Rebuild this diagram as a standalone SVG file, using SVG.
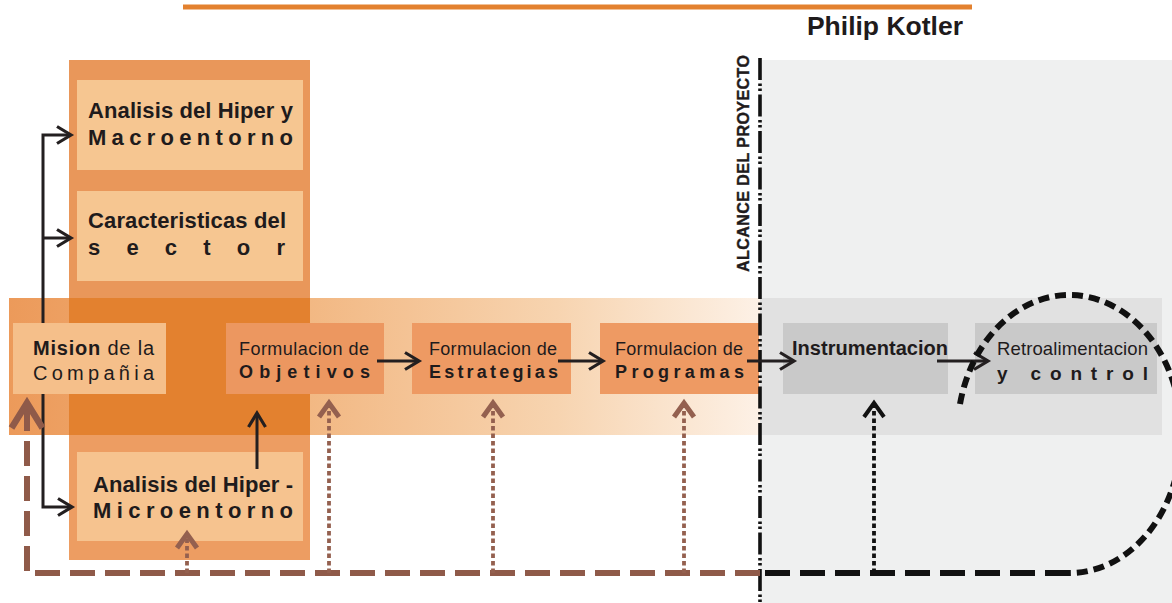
<svg xmlns="http://www.w3.org/2000/svg" width="1172" height="603" viewBox="0 0 1172 603">
<defs>
  <linearGradient id="bandGrad" gradientUnits="userSpaceOnUse" x1="9" y1="0" x2="760" y2="0">
    <stop offset="0" stop-color="#ec9a5a"/>
    <stop offset="0.4" stop-color="#f2b883"/>
    <stop offset="0.73" stop-color="#f7d4b0"/>
    <stop offset="1" stop-color="#fdf1e6"/>
  </linearGradient>
  <marker id="arrBlack" markerUnits="userSpaceOnUse" viewBox="-18 -12 22 24" markerWidth="22" markerHeight="24" refX="0" refY="0" orient="auto" overflow="visible">
    <path d="M-14,-8.5 L0,0 L-14,8.5" fill="none" stroke="#231f20" stroke-width="3.2"/>
  </marker>
  <marker id="arrDot" markerUnits="userSpaceOnUse" viewBox="-18 -14 22 28" markerWidth="22" markerHeight="28" refX="0" refY="0" orient="auto" overflow="visible">
    <path d="M-14,-10 L0,0 L-14,10" fill="none" stroke="#94604f" stroke-width="5"/>
  </marker>
  <marker id="arrDotBlack" markerUnits="userSpaceOnUse" viewBox="-18 -14 22 28" markerWidth="22" markerHeight="28" refX="0" refY="0" orient="auto" overflow="visible">
    <path d="M-14,-10 L0,0 L-14,10" fill="none" stroke="#111" stroke-width="4"/>
  </marker>
  <marker id="arrBig" markerUnits="userSpaceOnUse" viewBox="-30 -20 34 40" markerWidth="34" markerHeight="40" refX="0" refY="0" orient="auto" overflow="visible">
    <path d="M-25,-15.5 L0,0 L-25,15.5" fill="none" stroke="#8f5a49" stroke-width="6.5"/>
  </marker>
</defs>
<style>
  text { font-family: "Liberation Sans", Arial, sans-serif; fill: #1f1b1c; }
  .b { font-weight: bold; }
  .lbl { font-size: 22px; font-weight: bold; }
  .form { font-size: 18px; }
  .formb { font-size: 18px; font-weight: bold; }
  .blk { fill: none; stroke: #231f20; stroke-width: 3; }
  .dotb { fill: none; stroke: #94604f; stroke-width: 3.8; stroke-dasharray: 4.5 3; }
  .dotk { fill: none; stroke: #111; stroke-width: 3.8; stroke-dasharray: 4.5 3; }
  .dashb { fill: none; stroke: #8f5a49; stroke-width: 6; stroke-dasharray: 25 10; }
  .dashk { fill: none; stroke: #111; stroke-width: 6; stroke-dasharray: 25 10; }
  .arck { fill: none; stroke: #111; stroke-width: 6; stroke-dasharray: 11 6; }
</style>
<rect x="0" y="0" width="1172" height="603" fill="#ffffff"/>

<!-- header -->
<g id="header">
  <rect x="183" y="4.5" width="789" height="5" fill="#e3812f"/>
  <text class="b" x="963" y="35" font-size="26.5" text-anchor="end">Philip Kotler</text>
</g>

<!-- regions -->
<g id="regions">
  <rect x="760" y="60" width="412" height="543" fill="#eff0f0"/>
  <rect x="760" y="298" width="402" height="137" fill="#e1e1e1"/>
  <rect x="9" y="298" width="751" height="137" fill="url(#bandGrad)"/>
  <rect x="69" y="60" width="241" height="238" fill="#e9975a"/>
  <rect x="69" y="298" width="241" height="137" fill="#e3812f"/>
  <rect x="69" y="435" width="241" height="125" fill="#ed9d62"/>
</g>

<g id="node-macro">
  <rect x="77" y="80" width="226" height="90" fill="#f6c691"/>
  <text class="lbl" x="88" y="118" textLength="205" lengthAdjust="spacing">Analisis del Hiper y</text>
  <text class="lbl" x="88" y="145" textLength="205" lengthAdjust="spacing">Macroentorno</text>
</g>
<g id="node-sector">
  <rect x="77" y="191" width="226" height="90" fill="#f6c691"/>
  <text class="lbl" x="88" y="228" textLength="198" lengthAdjust="spacing">Caracteristicas del</text>
  <text class="lbl" x="88" y="255" textLength="197" lengthAdjust="spacing">sector</text>
</g>
<g id="node-micro">
  <rect x="77" y="452" width="226" height="89" fill="#f6c38f"/>
  <text class="lbl" x="93" y="492" textLength="200" lengthAdjust="spacing">Analisis del Hiper -</text>
  <text class="lbl" x="93" y="518" textLength="200" lengthAdjust="spacing">Microentorno</text>
</g>
<g id="node-mision">
  <rect x="13" y="323" width="153" height="71" fill="#f5bf8a"/>
  <text x="33" y="355" font-size="20" textLength="121" lengthAdjust="spacing"><tspan class="b">Mision</tspan> de la</text>
  <text x="33" y="380" font-size="20" textLength="121" lengthAdjust="spacing">Compañia</text>
</g>
<g id="node-objetivos">
  <rect x="226" y="323" width="158" height="71" fill="#ec9760"/>
  <text class="form" x="239" y="355" textLength="130" lengthAdjust="spacing">Formulacion de</text>
  <text class="formb" x="239" y="378" textLength="131" lengthAdjust="spacing">Objetivos</text>
</g>
<g id="node-estrategias">
  <rect x="412" y="323" width="159" height="71" fill="#ee9a63"/>
  <text class="form" x="429" y="355" textLength="128" lengthAdjust="spacing">Formulacion de</text>
  <text class="formb" x="429" y="378" textLength="129" lengthAdjust="spacing">Estrategias</text>
</g>
<g id="node-programas">
  <rect x="600" y="323" width="159" height="71" fill="#ee9a63"/>
  <text class="form" x="615" y="355" textLength="128" lengthAdjust="spacing">Formulacion de</text>
  <text class="formb" x="615" y="378" textLength="129" lengthAdjust="spacing">Programas</text>
</g>
<g id="node-instrumentacion">
  <rect x="783" y="323" width="165" height="71" fill="#c9c9c9"/>
  <text class="b" x="792" y="355" font-size="20" textLength="156" lengthAdjust="spacing">Instrumentacion</text>
</g>
<g id="node-retro">
  <rect x="975" y="323" width="182" height="71" fill="#c9c9c9"/>
  <text x="997" y="355" font-size="18.5" textLength="151" lengthAdjust="spacing">Retroalimentacion</text>
  <text class="b" x="997" y="380" font-size="19" textLength="151" lengthAdjust="spacing">y control</text>
</g>

<g id="scope">
  <line x1="760" y1="58" x2="760" y2="603" stroke="#111" stroke-width="3.6" stroke-dasharray="22 3.5 2.5 2.5 2.5 3.5"/>
  <text class="b" transform="translate(749,272) rotate(-90)" x="0" y="0" font-size="16" textLength="217" lengthAdjust="spacing" stroke="#1f1b1c" stroke-width="0.4">ALCANCE DEL PROYECTO</text>
</g>

<g id="connectors">
  <!-- mision tree -->
  <path class="blk" d="M43,323 L43,135 L71,135" marker-end="url(#arrBlack)"/>
  <path class="blk" d="M43,238 L71,238" marker-end="url(#arrBlack)"/>
  <path class="blk" d="M43,394 L43,507 L72,507" marker-end="url(#arrBlack)"/>
  <!-- micro to objetivos -->
  <path class="blk" d="M257,469 L257,413" marker-end="url(#arrBlack)"/>
  <!-- main chain -->
  <path class="blk" d="M377,361 L419,361" marker-end="url(#arrBlack)"/>
  <path class="blk" d="M558,361 L603,361" marker-end="url(#arrBlack)"/>
  <path class="blk" d="M747,361 L794,361" marker-end="url(#arrBlack)"/>
  <path class="blk" d="M937,361 L988,361" marker-end="url(#arrBlack)"/>
  <!-- feedback loop -->
  <path class="arck" d="M960,404 A112 139 0 1 1 1070,573"/>
  <path class="dashk" d="M1070,573 L760,573"/>
  <path class="dashb" d="M760,573 L27,573 L27,403" marker-end="url(#arrBig)"/>
  <!-- dotted feedback arrows -->
  <path class="dotb" d="M187,573 L187,534" marker-end="url(#arrDot)"/>
  <path class="dotb" d="M329,573 L329,403" marker-end="url(#arrDot)"/>
  <path class="dotb" d="M493,573 L493,403" marker-end="url(#arrDot)"/>
  <path class="dotb" d="M684,573 L684,403" marker-end="url(#arrDot)"/>
  <path class="dotk" d="M874,573 L874,403" marker-end="url(#arrDotBlack)"/>
</g>
</svg>
